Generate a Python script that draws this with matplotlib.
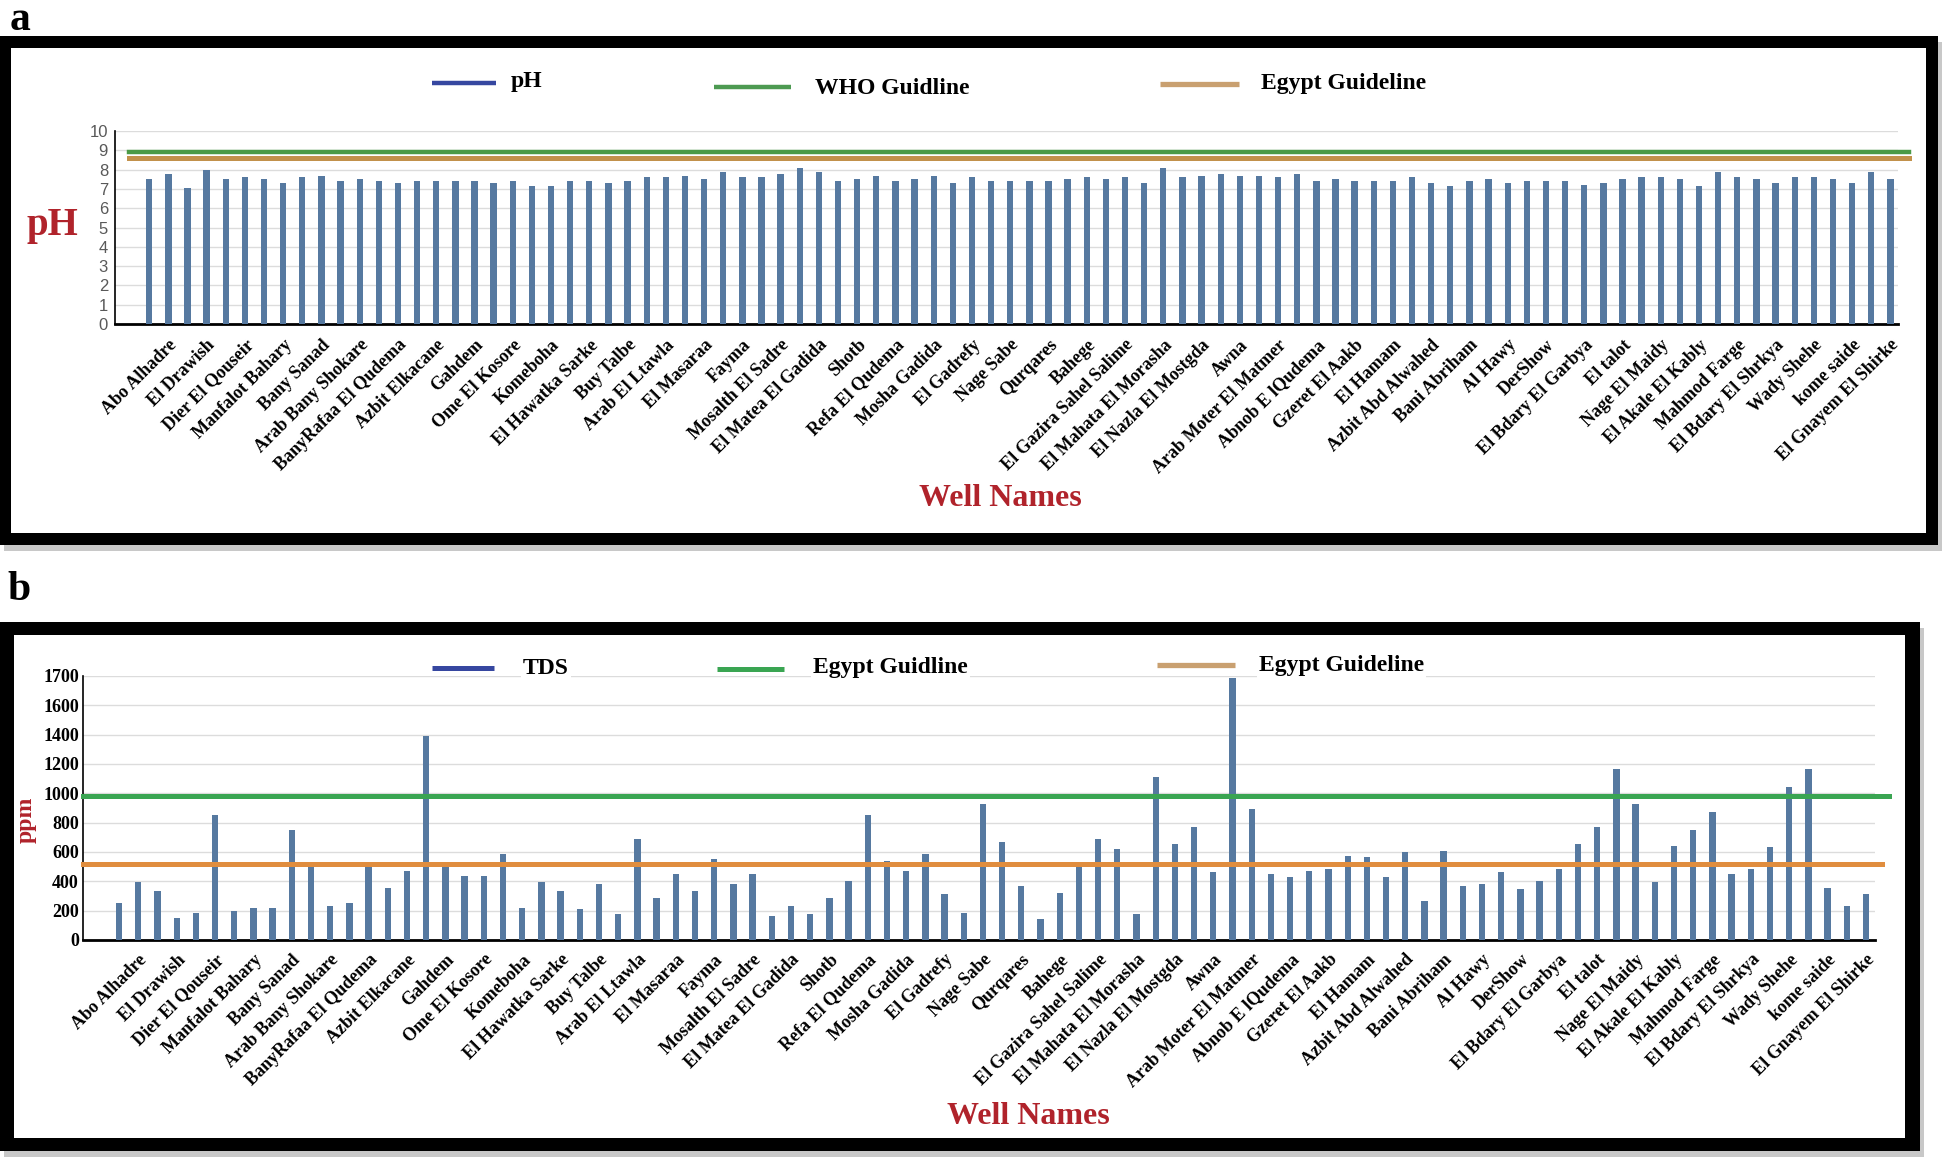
import matplotlib
matplotlib.use('Agg')
import matplotlib.pyplot as plt
from matplotlib.lines import Line2D
from matplotlib.patches import Rectangle
import numpy as np

# ---------------- data ----------------
well_labels = ["Abo Alhadre", "El Drawish", "Dier El Qouseir", "Manfalot Bahary", "Bany Sanad",
               "Arab Bany Shokare", "BanyRafaa El Qudema", "Azbit Elkacane", "Gahdem", "Ome El Kosore",
               "Komeboha", "El Hawatka Sarke", "Buy Talbe", "Arab El Ltawla", "El Masaraa",
               "Fayma", "Mosalth El Sadre", "El Matea El Gadida", "Shotb", "Refa El Qudema",
               "Mosha Gadida", "El Gadrefy", "Nage Sabe", "Qurqares", "Bahege",
               "El Gazira Sahel Salime", "El Mahata El Morasha", "El Nazla El Mostgda", "Awna",
               "Arab Moter El Matmer", "Abnob E lQudema", "Gzeret El Aakb", "El Hamam",
               "Azbit Abd Alwahed", "Bani Abriham", "Al Hawy", "DerShow", "El Bdary El Garbya",
               "El talot", "Nage El Maidy", "El Akale El Kably", "Mahmod Farge",
               "El Bdary El Shrkya", "Wady Shehe", "kome saide", "El Gnayem El Shirke"]

ph_values = [7.5, 7.76, 7.05, 8.0, 7.5, 7.6, 7.5, 7.3, 7.6, 7.68, 7.4, 7.5, 7.4, 7.3, 7.4, 7.4,
             7.4, 7.4, 7.3, 7.4, 7.14, 7.14, 7.4, 7.4, 7.3, 7.4, 7.6, 7.6, 7.68, 7.5, 7.85,
             7.6, 7.6, 7.76, 8.1, 7.85, 7.4, 7.5, 7.68, 7.4, 7.5, 7.68, 7.3, 7.6, 7.4, 7.4,
             7.4, 7.4, 7.5, 7.6, 7.5, 7.6, 7.3, 8.1, 7.6, 7.68, 7.76, 7.68, 7.68, 7.6, 7.76,
             7.4, 7.5,
             7.4, 7.4, 7.4, 7.6, 7.3, 7.14, 7.4, 7.5, 7.3, 7.4, 7.4, 7.4, 7.22, 7.3, 7.5,
             7.6, 7.6, 7.5, 7.14, 7.85, 7.6, 7.5, 7.3, 7.6, 7.6, 7.5, 7.3, 7.85, 7.5]

tds_values = [254, 393, 334, 152, 186, 851, 197, 220, 220, 747, 495, 231, 254, 495, 356, 472,
              1389, 495, 438, 438, 588, 220, 393, 334, 209, 379, 175, 688, 288,
              449, 334, 551, 379, 449, 163, 231, 175, 288, 404, 851, 540, 472, 588, 311, 186,
              930, 665, 370, 141, 322, 495, 688, 620, 175, 1112, 654, 769, 461, 1786, 896,
              449, 427,
              472, 483, 574, 563, 427, 597, 266, 608, 368, 379, 461, 345, 404, 483, 654, 769,
              1169, 930, 393, 642, 747, 874, 449, 483, 631, 1044, 1169, 356, 231, 311]

ph_who = 8.9
ph_egypt = 8.6
tds_egypt_green = 980
tds_egypt_orange = 515

ph_yticks = list(range(0, 11))
tds_yticks = [0, 200, 400, 600, 800, 1000, 1200, 1400, 1600, 1800]
tds_yticklabels = ["0", "200", "400", "600", "800", "1000", "1200", "1400", "1600", "1700"]

# ---------------- style ----------------
W, H = 1946, 1165
fig = plt.figure(figsize=(W / 100, H / 100), dpi=100)
fig.patch.set_facecolor('white')
SERIF = ['Liberation Serif', 'DejaVu Serif']
BAR = '#5679a0'
RED = '#b0232b'
XT_SIZE = 13


def fx(px):
    return px / W


def fy(py):
    return 1 - py / H


def frame(x0, y0, x1, y1, xi0, yi0, xi1, yi1):
    fig.add_artist(Rectangle((fx(x0 + 4), fy(y1 + 6)), fx(x1 - x0), (y1 - y0) / H,
                             facecolor='#c8c8c8', edgecolor='none',
                             transform=fig.transFigure, zorder=-3))
    fig.add_artist(Rectangle((fx(x0), fy(y1)), fx(x1 - x0), (y1 - y0) / H,
                             facecolor='black', edgecolor='none',
                             transform=fig.transFigure, zorder=-2))
    fig.add_artist(Rectangle((fx(xi0), fy(yi1)), fx(xi1 - xi0), (yi1 - yi0) / H,
                             facecolor='white', edgecolor='none',
                             transform=fig.transFigure, zorder=-1))


def legend_entry(x0, x1, y, color, lw, text, tx, ty, size):
    fig.add_artist(Line2D([fx(x0), fx(x1)], [fy(y), fy(y)], color=color, lw=lw,
                          solid_capstyle='butt', transform=fig.transFigure, zorder=5))
    fig.text(fx(tx), fy(ty), text, ha='left', va='center', fontsize=size,
             fontweight='bold', family=SERIF, zorder=6,
             bbox=dict(fc='white', ec='none', pad=1.5))


frame(0, 36, 1938, 545, 11, 48, 1926, 533)
frame(0, 622, 1920, 1151, 14, 635, 1905, 1138)

fig.text(fx(20), fy(20), 'a', ha='center', va='center', fontsize=30, fontweight='bold', family=SERIF)
fig.text(fx(19), fy(590), 'b', ha='center', va='center', fontsize=30, fontweight='bold', family=SERIF)

label_pos = np.arange(1, len(ph_values), 2)[:len(well_labels)]

# ---------------- panel a ----------------
axa = fig.add_axes([fx(115), fy(324), fx(1898 - 115), (324 - 131) / H])
xa = np.arange(len(ph_values))
axa.bar(xa, ph_values, width=0.33, color=BAR, zorder=3)
axa.axhline(ph_who, xmin=0.008, xmax=1.006, color='#4a9a46', lw=3.2, zorder=4, clip_on=False)
axa.axhline(ph_egypt, xmin=0.008, xmax=1.006, color='#c2914b', lw=3.6, zorder=4, clip_on=False)
axa.set_xlim(-1.79, 91.4)
axa.set_ylim(0, 10)
axa.set_yticks(ph_yticks)
axa.set_yticklabels([str(v) for v in ph_yticks], fontsize=12, color='#595959', family='Liberation Sans')
axa.grid(axis='y', color='#dcdcdc', lw=1.0, zorder=0)
axa.set_axisbelow(True)
for s in ['top', 'right']:
    axa.spines[s].set_visible(False)
axa.spines['left'].set_color('black')
axa.spines['left'].set_linewidth(1.2)
axa.spines['bottom'].set_color('black')
axa.spines['bottom'].set_linewidth(2)
axa.tick_params(axis='both', length=0)
axa.tick_params(axis='y', pad=5)
axa.set_xticks(label_pos)
axa.set_xticklabels(well_labels, rotation=45, ha='right', rotation_mode='anchor',
                    fontsize=XT_SIZE, fontweight='bold', family=SERIF)
axa.tick_params(axis='x', pad=9)
axa.patch.set_alpha(0)
fig.text(fx(52), fy(226), 'pH', ha='center', va='center', fontsize=28, fontweight='bold',
         color=RED, family=SERIF)
fig.text(fx(1000), fy(498), 'Well Names', ha='center', va='center', fontsize=23,
         fontweight='bold', color=RED, family=SERIF)

legend_entry(432, 496, 83, '#3647a0', 3.2, 'pH', 511, 81, 17)
legend_entry(714, 791, 87, '#4d9a52', 3.2, 'WHO Guidline', 815, 88, 17)
legend_entry(1160, 1239, 84, '#c9a070', 3.8, 'Egypt Guideline', 1261, 84, 17)

# ---------------- panel b ----------------
axb = fig.add_axes([fx(83), fy(940), fx(1875 - 83), (940 - 676) / H])
xb = np.arange(len(tds_values))
axb.bar(xb, tds_values, width=0.33, color=BAR, zorder=3)
axb.axhline(tds_egypt_green, xmin=0.0, xmax=1.008, color='#3aa552', lw=3.6, zorder=4, clip_on=False)
axb.axhline(tds_egypt_orange, xmin=0.0, xmax=1.004, color='#e08d3e', lw=3.6, zorder=4, clip_on=False)
axb.set_xlim(-1.88, 91.47)
axb.set_ylim(0, 1800)
axb.set_yticks(tds_yticks)
axb.set_yticklabels(tds_yticklabels, fontsize=13, fontweight='bold', family=SERIF)
axb.grid(axis='y', color='#dcdcdc', lw=1.0, zorder=0)
axb.set_axisbelow(True)
for s in ['top', 'right']:
    axb.spines[s].set_visible(False)
axb.spines['left'].set_color('black')
axb.spines['left'].set_linewidth(1.2)
axb.spines['bottom'].set_color('black')
axb.spines['bottom'].set_linewidth(2)
axb.tick_params(axis='both', length=0)
axb.tick_params(axis='y', pad=3)
axb.set_xticks(label_pos)
axb.set_xticklabels(well_labels, rotation=45, ha='right', rotation_mode='anchor',
                    fontsize=XT_SIZE, fontweight='bold', family=SERIF)
axb.tick_params(axis='x', pad=8)
axb.patch.set_alpha(0)
fig.text(fx(26), fy(820), 'ppm', ha='center', va='center', rotation=90, fontsize=17,
         fontweight='bold', color=RED, family=SERIF)
fig.text(fx(1028), fy(1117), 'Well Names', ha='center', va='center', fontsize=23,
         fontweight='bold', color=RED, family=SERIF)

legend_entry(432, 494, 668, '#3647a0', 3.6, 'TDS', 523, 668, 17)
legend_entry(717, 784, 669, '#3aa552', 3.6, 'Egypt Guidline', 813, 668, 17)
legend_entry(1157, 1235, 665, '#c9a070', 3.8, 'Egypt Guideline', 1259, 665, 17)

fig.savefig('out.png', dpi=100)
